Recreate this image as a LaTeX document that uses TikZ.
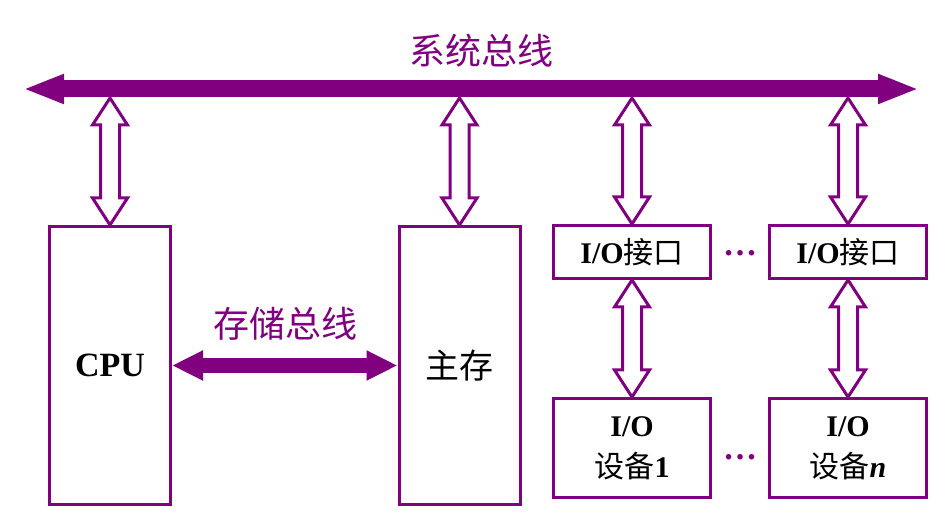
\documentclass[tikz,border=0pt]{standalone}
\usepackage{fontspec}
\setmainfont{Liberation Serif}
\newfontfamily\cjk{Noto Sans CJK SC}
\definecolor{busviolet}{HTML}{800080}
\usetikzlibrary{arrows.meta,positioning,calc}

% hollow two-headed link between two points, #1 above #2
\newcommand\hollowlink[2]{%
  \draw[hollow] let \p1=#1, \p2=#2 in
    (\x1,\y1) -- ++(8.75pt,-13.5pt) -- ++(-4pt,0pt)
    -- (\x1+4.75pt,\y2+13.5pt) -- ++(4pt,0pt) -- (\x2,\y2)
    -- ++(-8.75pt,13.5pt) -- ++(4pt,0pt)
    -- (\x1-4.75pt,\y1-13.5pt) -- ++(-4pt,0pt) -- cycle;}

\begin{document}
\begin{tikzpicture}[
  x=0.5pt,y=-0.5pt,
  font=\fontsize{15}{20.5}\selectfont,
  unit/.style={draw=busviolet,fill=white,line width=1.5pt,inner sep=0pt,
    align=center,minimum width=60.5pt,minimum height=139pt},
  port/.style={unit,minimum width=78.5pt,minimum height=26.5pt},
  device/.style={port,minimum height=49.5pt},
  hollow/.style={draw=busviolet,fill=white,line width=1.5pt,line join=miter},
  sysbus/.style={draw=busviolet,line width=8.5pt,
    {Triangle[length=20.5pt,width=13.5pt]}-{Triangle[length=20.5pt,width=13.5pt]}},
  membus/.style={draw=busviolet,line width=7.5pt,
    {Triangle[length=15.5pt,width=14pt]}-{Triangle[length=15.5pt,width=14pt]}},
  busname/.style={text=busviolet,font=\cjk\fontsize{18}{20}\selectfont},
  gap/.style={text=busviolet,inner sep=0pt,font=\bfseries\fontsize{17}{18}\selectfont}
]
\useasboundingbox (0,0) rectangle (951,522);
% system bus
\coordinate (busL) at (23,89);
\coordinate (busR) at (919,89);
\coordinate (busbot) at (0,98);
\draw[sysbus] (busL) -- (busR);
\node[busname] (sysname) at (481,51) {系统总线};
% CPU and main memory
\node[unit,font=\bfseries\fontsize{17}{20}\selectfont] (cpu) at (110,365.5) {CPU};
\node[unit,font=\cjk\fontsize{17}{20}\selectfont] (mem) at (459.5,365.5) {主存};
\draw[membus] (cpu.east) -- (mem.west);
\node[busname] (memname) at (285,324) {存储总线};
% I/O interfaces and devices
\node[port] (io1) at (632,252) {\textbf{I/O}{\cjk 接口}};
\node[port] (io2) at (848,252) {\textbf{I/O}{\cjk 接口}};
\node[device] (dev1) at (632,448) {\textbf{I/O}\\{\cjk 设备}\textbf{1}};
\node[device] (devn) at (848,448) {\textbf{I/O}\\{\cjk 设备}\textbf{\textit{n}}};
\node[gap,anchor=base] (dotsA) at (740,256) {…};
\node[gap,anchor=base] (dotsB) at (740,460) {…};
% links to the buses
\hollowlink{(cpu.north |- busbot)}{(cpu.north)}
\hollowlink{(mem.north |- busbot)}{(mem.north)}
\hollowlink{(io1.north |- busbot)}{(io1.north)}
\hollowlink{(io2.north |- busbot)}{(io2.north)}
\hollowlink{(io1.south)}{(dev1.north)}
\hollowlink{(io2.south)}{(devn.north)}
\end{tikzpicture}
\end{document}
